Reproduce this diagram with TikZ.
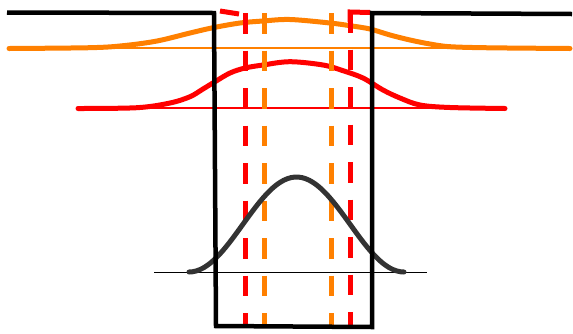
\documentclass[tikz,border=0pt]{standalone}
\usetikzlibrary{calc}
\definecolor{myorange}{HTML}{FF8000}
\definecolor{myred}{HTML}{FF0000}
\definecolor{mydark}{HTML}{333333}
\tikzset{
  thickcurve/.style={line width=5pt, line cap=round, line join=round},
  thinline/.style={line width=2pt},
  dashline/.style={line width=5pt, dash pattern=on 20.5pt off 17pt},
  outline/.style={line width=4.5pt, line join=miter, black},
}
\begin{document}
\begin{tikzpicture}[x=1pt,y=-1pt]
\useasboundingbox (0,0) rectangle (573,333);
% thin baselines
\draw[thinline, myorange] (9,48) -- (570,48);
\draw[thinline, myred] (80,108.3) -- (505,108.3);
% orange curve
\draw[thickcurve, myorange] plot[smooth, tension=0.55] coordinates {
 (9,48.5) (90,47.7) (123,45.7) (157,41) (190,33) (213,27.7) (240,23) (263,21)
 (290,19.5) (330,23) (350,25.7) (370,29) (390,35) (410,40) (430,44) (450,46.7)
 (490,47.8) (570,48.5)};
% red curve
\draw[thickcurve, myred] plot[smooth, tension=0.55] coordinates {
 (78,108.5) (137,107.7) (170,103) (190,96.7) (203,89) (215,81.7) (230,73)
 (245,68) (263,65) (290,61.7) (323,65) (343,70.7) (363,78) (383,90) (400,98)
 (420,105) (450,107.5) (505,108.5)};
% dashed lines
\coordinate (rlt) at (245,13);
\coordinate (rlb) at (245,328);
\coordinate (olt) at (264,13);
\coordinate (olb) at (264,328);
\coordinate (ort) at (331,13);
\coordinate (orb) at (331,328);
\coordinate (rrt) at (350,12);
\coordinate (rrb) at (350,328);
\draw[dashline, myred] (rlt) -- (rlb);
\draw[dashline, myorange] (olt) -- (olb);
\draw[dashline, myorange] (ort) -- (orb);
\draw[dashline, myred] (rrt) -- (rrb);
\coordinate (rla) at (220,11);
\coordinate (rlc) at (239,14);
\draw[line width=5pt, myred] (rla) -- (rlc);
\coordinate (rra) at (370,12.5);
\coordinate (rrc) at (350,22);
\draw[line width=5pt, myred, line join=miter] (rra) -- (350,12) -- (rrc);
% bell curve
\coordinate (bl) at (154,272.5);
\coordinate (br) at (427,272.5);
\draw[line width=1.8pt, black] (bl) -- (br);
\draw[thickcurve, mydark] plot[smooth, domain=189:404, samples=60]
  (\x, {272 - 47.5*(1+cos((\x-296.5)*1.674419))});
% outline
\draw[outline] (7,12.5) -- (214,13) -- (216,326) -- (372,327) -- (372,13) -- (572,14);
\end{tikzpicture}
\end{document}
